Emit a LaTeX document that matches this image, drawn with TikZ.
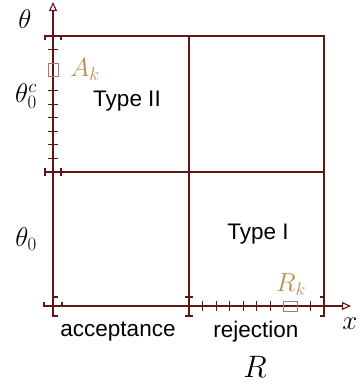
\RequirePackage{fix-cm}
\documentclass[tikz,border=0pt]{standalone}
\usepackage{fontspec}
\setsansfont{Liberation Sans}
\usetikzlibrary{arrows.meta}
\definecolor{axcol}{RGB}{95,22,22}
\definecolor{boxcol}{RGB}{175,115,115}
\definecolor{labcol}{RGB}{190,140,75}

\begin{document}
\begin{tikzpicture}[x=1pt,y=-1pt,
  axis/.style={draw=axcol,line width=1.1pt},
  brk/.style={draw=axcol,line width=1.3pt},
  tck/.style={draw=axcol,line width=0.9pt},
  region/.style={draw=axcol,line width=1.1pt},
  setbox/.style={draw=boxcol,line width=1pt},
  txt/.style={font=\sffamily\fontsize{22.5}{26}\selectfont,inner sep=0},
  mth/.style={font=\fontsize{27}{31}\selectfont,inner sep=0},
  setlab/.style={font=\fontsize{26}{30}\selectfont,text=labcol,inner sep=0}]
\useasboundingbox (0,0) rectangle (359,385);

% ---- the four regions
\draw[region] (53,36) rectangle (324,306);
\draw[region] (189,36)--(189,306);
\draw[region] (53,172)--(324,172);

% ---- axes
\draw[axis,-{Triangle[open,length=9pt,width=8pt]}] (53,317)--(53,2);
\draw[axis,-{Triangle[open,length=9pt,width=8pt]}] (44,306)--(351,306);

% ---- brackets on the theta axis
\draw[brk] (45,40)--(45,36)--(61,36)--(61,40);
\draw[brk] (45,168)--(45,176) (45,172)--(61,172) (61,168)--(61,176);
\draw[brk] (44,302)--(44,306)--(62,306)--(62,302);

% ---- brackets on the x axis
\draw[brk] (58,297)--(53,297)--(53,316)--(58,316);
\draw[brk] (185,297)--(193,297) (189,297)--(189,316) (185,316)--(193,316);
\draw[brk] (320,297)--(324,297)--(324,316)--(320,316);

% ---- ticks
\foreach \k in {1,4,5,6,7,8,9}
  \draw[tck] (48,36+13.6*\k)--(58,36+13.6*\k);
\foreach \k in {1,2,3,4,5,6,9}
  \draw[tck] (189+13.5*\k,301)--(189+13.5*\k,311);

% ---- the sets A_k and R_k
\draw[setbox] (48,63.2) rectangle (58,76.8);
\draw[setbox] (283.5,301) rectangle (297,311);
\node[setlab] (ak) at (85,70) {$A_k$};
\node[setlab] (rk) at (291,285) {$R_k$};

% ---- labels
\node[mth] (th)  at (25,19)  {$\theta$};
\node[mth] (thc) at (26,96)  {$\theta_0^c$};
\node[mth] (th0) at (26,239) {$\theta_0$};
\node[mth] (xl)  at (350,324) {$x$};
\node[mth,font=\fontsize{31}{35}\selectfont] (rl) at (255,367) {$R$};
\node[txt] (t2) at (127,101) {Type II};
\node[txt] (t1) at (258,234) {Type I};
\node[txt] (acc) at (118,332) {acceptance};
\node[txt] (rej) at (256,332) {rejection};
\end{tikzpicture}
\end{document}
